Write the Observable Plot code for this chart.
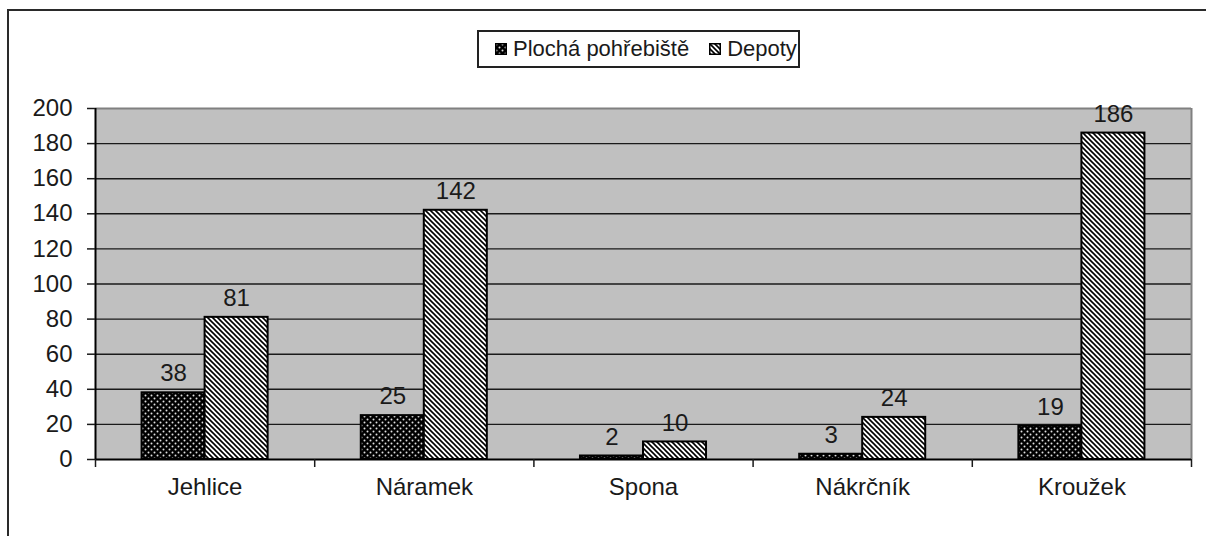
<!DOCTYPE html>
<html>
<head>
<meta charset="utf-8">
<script src="https://cdn.jsdelivr.net/npm/d3@7"></script>
<script src="https://cdn.jsdelivr.net/npm/@observablehq/plot@0.6"></script>
<style>
  html, body { margin: 0; padding: 0; background: #fff; overflow: hidden; }
  body { width: 1206px; height: 536px; position: relative; font-family: "Liberation Sans", Arial, sans-serif; color: #1a1a1a; }
  #frame { position: absolute; left: 7px; top: 9px; width: 1199px; height: 527px; border-left: 2px solid #2a2a2a; border-top: 2px solid #2a2a2a; pointer-events: none; box-sizing: border-box; }
  #wrap { padding-top: 30px; }
  #legend { margin-left: 477px; width: 323px; height: 38px; box-sizing: border-box; border: 2px solid #222; display: flex; align-items: center; padding-left: 16px; font-size: 22px; margin-bottom: 2px; background: #fff; position: relative; }
  .item { display: flex; align-items: center; margin-right: 20px; white-space: nowrap; }
  .item svg { margin-right: 6px; display: block; }
  #chart svg { display: block; }
</style>
</head>
<body>
<svg width="0" height="0" style="position:absolute">
  <defs>
    <pattern id="dots" patternUnits="userSpaceOnUse" width="6" height="6">
      <rect width="6" height="6" fill="#000"></rect>
      <circle cx="1.5" cy="1.5" r="1" fill="#e0e0e0"></circle>
      <circle cx="4.5" cy="4.5" r="1" fill="#e0e0e0"></circle>
    </pattern>
    <pattern id="hatch" patternUnits="userSpaceOnUse" width="5" height="5">
      <rect width="5" height="5" fill="#fff"></rect>
      <path d="M0,0 L5,5 M-1,4 L1,6 M4,-1 L6,1" stroke="#000" stroke-width="1.6"></path>
    </pattern>
  </defs>
</svg>
<div id="frame"></div>
<div id="wrap">
  <div id="legend"></div>
  <div id="chart"></div>
</div>
<script>
const categories = ["Jehlice", "Náramek", "Spona", "Nákrčník", "Kroužek"];
const seriesNames = ["Plochá pohřebiště", "Depoty"];
const plocha = [38, 25, 2, 3, 19];
const depoty = [81, 142, 10, 24, 186];
const yTicks = [0, 20, 40, 60, 80, 100, 120, 140, 160, 180, 200];
const fills = ["url(#dots)", "url(#hatch)"];

const rows = categories.flatMap((c, i) => [
  {i, c, s: 0, v: plocha[i]},
  {i, c, s: 1, v: depoty[i]}
]);

// layout of the grouped bars inside each category band (fractions of band)
const groupStart = 0.2125, barW = 0.2875;
const x1 = d => d.i + groupStart + d.s * barW;
const x2 = d => d.i + groupStart + (d.s + 1) * barW;
const xc = d => d.i + groupStart + (d.s + 0.5) * barW;

// legend
const legend = document.getElementById("legend");
seriesNames.forEach((name, k) => {
  const item = document.createElement("div");
  item.className = "item";
  item.innerHTML = `<svg width="12" height="12"><rect x="0.75" y="0.75" width="10.5" height="10.5" fill="${fills[k]}" stroke="#000" stroke-width="1.5"></rect></svg><span>${name}</span>`;
  legend.appendChild(item);
});

const chart = Plot.plot({
  width: 1206,
  height: 466,
  marginLeft: 95,
  marginRight: 15,
  marginTop: 38,
  marginBottom: 77,
  style: {fontFamily: "'Liberation Sans', Arial, sans-serif", fontSize: "24px", color: "#1a1a1a", background: "transparent", overflow: "visible"},
  x: {domain: [0, categories.length], axis: null},
  y: {domain: [0, 200], axis: null},
  marks: [
    Plot.frame({fill: "#c0c0c0", stroke: null}),
    Plot.ruleY(yTicks.slice(1, -1), {stroke: "#1a1a1a", strokeWidth: 1.4}),
    Plot.ruleY([200], {stroke: "#808080", strokeWidth: 2}),
    Plot.ruleX([categories.length], {stroke: "#808080", strokeWidth: 2}),
    Plot.rectY(rows.filter(d => d.s === 0), {x1, x2, y1: 0, y2: "v", fill: fills[0], stroke: "#000", strokeWidth: 2}),
    Plot.rectY(rows.filter(d => d.s === 1), {x1, x2, y1: 0, y2: "v", fill: fills[1], stroke: "#000", strokeWidth: 2}),
    Plot.text(rows, {x: xc, y: "v", text: d => String(d.v), dy: -19, fontSize: 24, fill: "#1a1a1a"}),
    Plot.ruleX([0], {stroke: "#000", strokeWidth: 2}),
    Plot.ruleY([0], {stroke: "#000", strokeWidth: 2}),
    Plot.axisY({ticks: yTicks, tickSize: 8, tickPadding: 15, fontSize: 24, label: null, strokeWidth: 1.5}),
    Plot.axisX({ticks: d3.range(categories.length + 1), tickSize: 8, tickFormat: () => "", label: null, strokeWidth: 1.5}),
    Plot.axisX({ticks: categories.map((c, i) => i + 0.5), tickSize: 0, tickPadding: 18, tickFormat: d => categories[Math.floor(d)], fontSize: 24, label: null})
  ]
});
document.getElementById("chart").appendChild(chart);
</script>
</body>
</html>
